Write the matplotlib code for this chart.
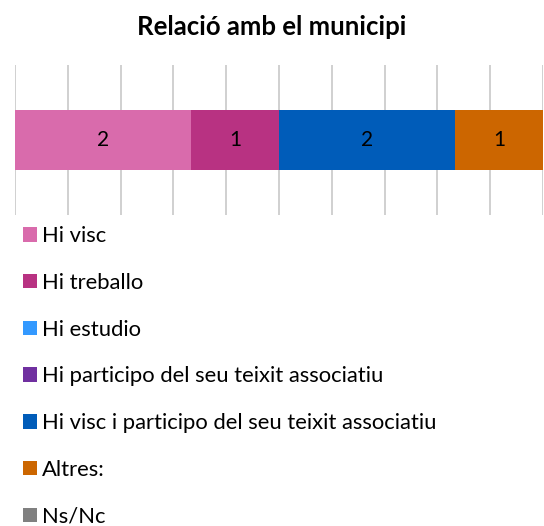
import matplotlib.pyplot as plt
import numpy as np

# dades
categories = ['Hi visc', 'Hi treballo', 'Hi estudio',
              'Hi participo del seu teixit associatiu',
              'Hi visc i participo del seu teixit associatiu',
              'Altres:', 'Ns/Nc']
values = [2, 1, 0, 0, 2, 1, 0]
colors = ['#D96BAC', '#B83282', '#3399FF', '#7030A0', '#005CB9', '#CC6600', '#808080']

plt.rcParams['font.family'] = ['Lato', 'DejaVu Sans']

fig = plt.figure(figsize=(5.44, 5.26), dpi=100)
ax = fig.add_axes([15 / 544, 1 - 215 / 526, 528 / 544, 150 / 526])

left = 0
handles = []
for cat, val, col in zip(categories, values, colors):
    b = ax.barh(0, val, left=left, height=0.4, color=col, label=cat, zorder=2)
    handles.append(b)
    if val > 0:
        ax.text(left + val / 2, 0, str(val), ha='center', va='center',
                fontsize=15, color='black', zorder=3)
    left += val

ax.set_xlim(0, sum(values))
ax.set_ylim(-0.5, 0.5)
ax.set_xticks(np.arange(0, sum(values) + 0.01, 0.6))
ax.set_yticks([])
ax.tick_params(axis='x', length=0, labelbottom=False)
ax.grid(axis='x', color='#C8C8C8', linewidth=1.2, zorder=0)
for s in ax.spines.values():
    s.set_visible(False)

fig.text(0.5, 1 - 27 / 526, 'Relació amb el municipi', ha='center', va='center',
         fontsize=18.5, fontweight='bold')

fig.legend(handles=handles, labels=categories, loc='upper left',
           bbox_to_anchor=(23 / 544, 1 - 226 / 526), frameon=False,
           fontsize=15.8, handlelength=0.65, handleheight=0.65,
           handletextpad=0.2, labelspacing=1.22, borderpad=0, borderaxespad=0)

fig.savefig('out.png', dpi=100)
